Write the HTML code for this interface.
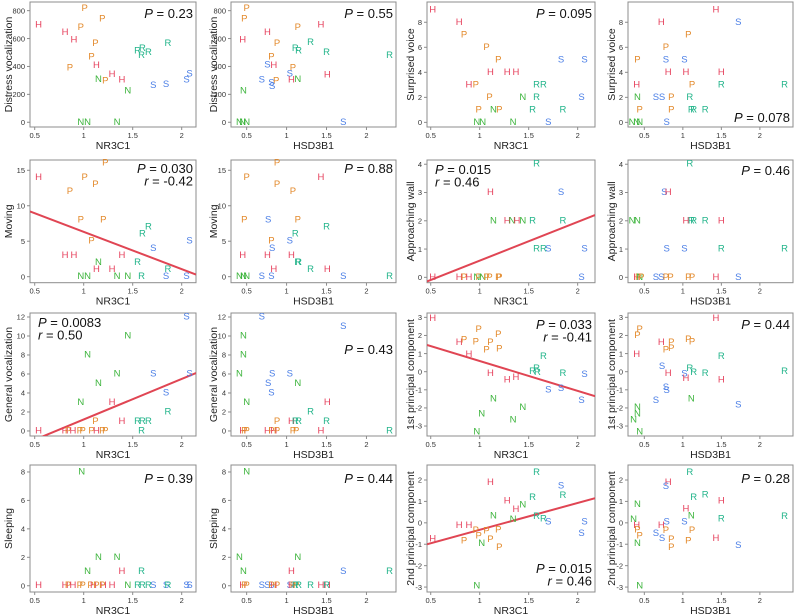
<!DOCTYPE html>
<html><head><meta charset="utf-8">
<style>
html,body{margin:0;padding:0;background:#fff;}
svg{display:block;font-family:"Liberation Sans",sans-serif;}
</style></head>
<body>
<svg id="chart" width="795" height="616" viewBox="0 0 795 616"></svg>
<script>
// ---- data arrays (letters = group, x = gene expression, y = behaviour) ----
const p1Labels=["H","P","P","H","P","H","P","P","H","P","N","P","H","H","N","R","R","R","R","R","S","S","S","S","N","N","N"];
const p1X=[0.54,1.01,1.19,0.81,0.97,0.90,1.12,1.08,1.13,0.86,1.15,1.22,1.29,1.39,1.45,1.55,1.60,1.59,1.66,1.86,1.71,1.84,2.05,2.08,0.97,1.04,1.34];
const p1Y=[697,817,740,645,680,590,566,466,406,389,308,296,341,303,224,511,530,478,499,566,263,272,303,346,0,0,0];

const p2Labels=["P","P","H","H","P","H","P","R","R","R","R","R","P","S","H","P","S","H","N","P","S","S","S","H","N","N","N","N","S"];
const p2X=[0.50,0.47,0.45,0.76,1.14,1.43,0.88,1.11,1.15,1.30,1.50,2.29,0.81,0.76,0.84,1.08,1.04,1.06,1.14,0.87,0.69,0.81,0.82,1.51,0.46,0.41,0.45,0.50,1.71];
const p2Y=[817,740,590,645,680,697,566,530,511,570,499,478,466,411,406,389,346,303,308,296,303,280,255,339,224,0,0,0,0];

const p3Labels=["H","H","P","P","P","H","H","H","H","P","P","P","N","P","N","R","R","R","R","R","S","S","S","S","N","N","N"];
const p3X=[0.52,0.79,0.84,1.07,1.19,1.11,1.28,1.37,0.89,0.96,1.10,0.99,1.14,1.20,1.44,1.58,1.65,1.58,1.54,1.85,1.83,2.07,2.04,1.70,0.97,1.03,1.34];
const p3Y=[9,8,7,6,5,4,4,4,3,3,2,1,1,1,2,3,3,2,1,1,5,5,2,0,0,0,0];

const p4Labels=["H","S","H","P","P","P","S","S","H","H","H","H","P","R","R","N","S","S","P","R","P","P","R","R","R","N","N","N","S"];
const p4X=[1.43,1.72,0.72,1.07,0.78,0.41,0.78,1.02,0.81,1.04,1.50,0.40,1.12,1.50,2.32,0.41,0.65,0.73,0.85,1.09,0.44,0.85,1.11,1.14,1.29,0.34,0.40,0.44,0.79];
const p4Y=[9,8,8,7,6,5,5,5,4,4,4,3,3,3,3,2,2,2,2,2,1,1,1,1,1,0,0,0,0];

const p5Labels=["P","H","P","P","P","P","P","R","R","P","S","S","H","H","H","N","R","H","H","R","N","N","N","N","R","S","S"];
const p5X=[1.22,0.54,1.01,1.12,0.86,0.97,1.20,1.66,1.60,1.08,2.08,1.71,0.81,0.90,1.39,1.15,1.55,1.13,1.29,1.86,0.97,1.04,1.34,1.45,1.59,1.84,2.05];
const p5Y=[16,14,14,13,12,8,8,7,6,5,5,4,3,3,3,2,2,1,1,1,0,0,0,0,0,0,0];
const p5Fit=[11.57,-5.25];

const p6Labels=["P","P","H","P","P","P","S","P","R","R","P","S","S","H","H","H","R","R","H","R","H","N","N","N","S","S","S","R"];
const p6X=[0.88,0.50,1.43,0.88,1.08,0.47,0.77,1.14,1.50,1.11,0.81,1.04,0.82,0.45,0.76,1.06,1.14,1.15,0.84,1.30,1.51,0.41,0.46,0.50,0.69,0.81,1.71,2.29];
const p6Y=[16,14,14,13,12,8,8,8,7,6,5,5,4,3,3,3,2,2,1,1,1,0,0,0,0,0,0,0];

const p7Labels=["R","H","S","N","H","N","H","N","R","R","R","R","S","S","S","H","H","P","H","N","P","N","P","P","P","P"];
const p7X=[1.58,1.11,1.83,1.14,1.28,1.33,1.38,1.44,1.54,1.85,1.58,1.65,1.70,2.07,2.04,0.52,0.79,0.84,0.89,0.97,0.99,1.03,1.07,1.10,1.19,1.20];
const p7Y=[4,3,3,2,2,2,2,2,2,2,1,1,1,1,0,0,0,0,0,0,0,0,0,0,0,0];
const p7Fit=[-0.78,1.37];

const p8Labels=["R","S","H","N","N","H","R","R","R","H","S","S","R","R","H","P","N","P","S","S","P","P","P","P","H","S"];
const p8X=[1.09,0.76,0.81,0.34,0.41,1.04,1.11,1.14,1.29,1.50,0.79,1.02,1.50,2.32,0.40,0.42,0.44,0.46,0.65,0.72,0.78,0.84,1.07,1.12,1.43,1.72];
const p8Y=[4,3,3,2,2,2,2,2,2,2,1,1,1,1,0,0,0,0,0,0,0,0,0,0,0,0];

const p9Labels=["S","N","N","N","S","S","N","S","N","H","R","P","H","R","R","R","R","H","H","P","H","P","P","P","H","P","P"];
const p9X=[2.05,1.45,1.04,1.34,1.71,2.08,1.15,1.84,0.97,1.29,1.86,1.12,1.39,1.55,1.60,1.66,1.59,0.54,0.81,0.84,0.89,0.96,0.99,1.08,1.13,1.19,1.22];
const p9Y=[12,10,8,6,6,6,5,4,3,3,2,1,1,1,1,1,0,0,0,0,0,0,0,0,0,0,0];
const p9Fit=[-3.06,4.27];

const p10Labels=["S","S","N","N","N","S","S","S","N","S","N","H","R","P","H","R","R","R","R","H","P","P","H","P","H","P","P","P","H"];
const p10X=[0.69,1.71,0.46,0.46,0.41,0.82,1.04,0.77,1.14,0.81,0.50,1.51,1.30,0.88,1.06,1.11,1.15,1.50,2.29,0.45,0.47,0.50,0.76,0.81,0.84,0.88,1.08,1.12,1.43];
const p10Y=[12,11,10,8,6,6,6,5,5,4,3,3,2,1,1,1,1,1,0,0,0,0,0,0,0,0,0,0,0];

const p11Labels=["H","P","H","P","P","P","P","P","P","H","R","R","R","R","R","H","S","H","H","S","S","S","N","N","N","N","N"];
const p11X=[0.52,0.99,0.79,0.84,0.96,1.11,1.19,1.07,1.20,0.89,1.65,1.58,1.54,1.59,1.85,1.11,2.07,1.28,1.37,1.70,1.83,2.04,1.14,1.44,1.02,1.34,0.97];
const p11Y=[2.95,2.34,1.62,1.75,1.65,1.62,2.06,1.2,1.25,0.96,0.83,0.18,0.0,-0.05,-0.1,-0.1,-0.15,-0.46,-0.33,-1.0,-0.92,-1.6,-1.5,-1.97,-2.34,-2.67,-3.33];
const p11Fit=[2.24,-1.65];

const p12Labels=["H","P","P","H","P","P","P","P","P","H","R","S","R","R","R","R","H","S","H","H","S","S","S","N","S","N","N","N","N"];
const p12X=[1.43,0.44,0.41,0.72,0.85,0.85,0.78,1.07,1.12,0.40,1.50,0.73,1.09,1.14,1.29,2.32,0.81,1.02,1.04,1.50,0.78,0.79,0.65,1.11,1.72,0.41,0.41,0.36,0.44];
const p12Y=[2.95,2.34,2.0,1.62,1.62,1.28,1.2,1.79,1.65,0.96,0.83,0.28,0.18,-0.05,-0.1,0.0,-0.1,-0.13,-0.37,-0.46,-0.87,-1.05,-1.6,-1.5,-1.84,-1.97,-2.34,-2.67,-3.33];

const p13Labels=["N","N","N","N","H","R","H","H","P","H","P","P","P","H","P","H","P","H","N","R","R","R","S","S","R","S","S"];
const p13X=[0.98,1.15,1.34,1.04,1.39,1.59,0.54,0.81,0.84,0.89,0.96,0.99,1.07,1.10,1.13,1.20,1.19,1.29,1.45,1.55,1.60,1.66,1.71,1.84,1.86,2.05,2.08];
const p13Y=[8,2,2,1,1,1,0,0,0,0,0,0,0,0,0,0,0,0,0,0,0,0,0,0,0,0,0];

const p14Labels=["N","N","N","N","H","S","R","H","P","P","S","S","S","H","P","P","S","H","P","P","R","R","R","H","H","R"];
const p14X=[0.50,0.41,1.14,0.46,1.06,1.71,2.29,0.45,0.47,0.50,0.69,0.76,0.81,0.84,0.81,0.88,1.04,1.06,1.08,1.12,1.11,1.15,1.30,1.43,1.51,1.50];
const p14Y=[8,2,2,1,1,1,1,0,0,0,0,0,0,0,0,0,0,0,0,0,0,0,0,0,0,0];

const p15Labels=["R","H","S","R","R","H","N","H","N","N","R","R","S","S","H","H","P","P","P","S","P","H","P","P","N","P","N"];
const p15X=[1.58,1.11,1.83,1.85,1.54,1.28,1.44,1.37,1.14,1.34,1.58,1.65,1.70,2.07,0.79,0.89,0.96,1.07,1.19,2.04,0.99,0.52,0.84,1.11,1.02,1.20,0.97];
const p15Y=[2.34,1.88,1.72,1.27,1.19,1.03,0.83,0.63,0.32,0.16,0.29,0.18,0.05,0.05,-0.13,-0.13,-0.37,-0.38,-0.34,-0.5,-0.62,-0.76,-0.85,-0.77,-0.96,-1.15,-2.95];
const p15Fit=[-1.58,1.254];

const p16Labels=["R","H","S","R","R","H","N","H","N","R","R","N","S","S","H","H","P","P","P","P","S","S","H","P","N","P","P","S","N"];
const p16X=[1.09,0.81,0.78,1.29,1.14,1.50,0.41,1.04,1.11,1.50,2.32,0.36,0.79,1.02,0.72,0.40,0.41,0.44,0.78,1.12,0.65,0.73,1.43,0.85,0.41,1.07,0.85,1.72,0.44];
const p16Y=[2.34,1.88,1.69,1.3,1.19,1.03,0.86,0.64,0.32,0.18,0.29,0.16,0.05,0.05,-0.13,-0.13,-0.34,-0.62,-0.37,-0.37,-0.5,-0.73,-0.73,-0.77,-0.96,-0.85,-1.15,-1.07,-2.95];

const nrTicks=["0.5","1","1.5","2"];
const hsTicks=["0.5","1","1.5","2"];
const distressTicks=["0","200","400","600","800"];
const surpTicks=["0","2","4","6","8"];
const movingTicks=["0","5","10","15"];
const wallTicks=["0","1","2","3","4"];
const genTicks=["0","2","4","6","8","10","12"];
const pcTicks1=["-3","-2","-1","0","1","2","3"];
const sleepTicks=["0","2","4","6","8"];
const pcTicks2=["-3","-2","-1","0","1","2"];

const colors={H:"#e6405c",P:"#e38a2c",N:"#3cb43c",R:"#22b48a",S:"#4a7ee6"};
const NS="http://www.w3.org/2000/svg";
const svg=document.getElementById('chart');
function mk(tag,attrs,parent){const e=document.createElementNS(NS,tag);for(const k in attrs)e.setAttribute(k,attrs[k]);(parent||svg).appendChild(e);return e;}

const cols=[{l:30,r:196,xmin:0.452,xmax:2.146,title:"NR3C1",tx:nrTicks,yt:9},
            {l:231,r:396,xmin:0.304,xmax:2.37,title:"HSD3B1",tx:hsTicks,yt:214},
            {l:427,r:595,xmin:0.462,xmax:2.177,title:"NR3C1",tx:nrTicks,yt:411},
            {l:628,r:793,xmin:0.288,xmax:2.43,title:"HSD3B1",tx:hsTicks,yt:612}];
const rows=[{t:2,b:127},{t:160,b:282.7},{t:313,b:436},{t:465,b:592}];

const panels=[
 {c:0,r:0,lab:p1Labels,x:p1X,y:p1Y,ymin:-34,ymax:862,yt:distressTicks,ttl:"Distress vocalization",stats:[["P","0.23"]],anchor:"end",base:18},
 {c:1,r:0,lab:p2Labels,x:p2X,y:p2Y,ymin:-34,ymax:862,yt:distressTicks,ttl:"Distress vocalization",stats:[["P","0.55"]],anchor:"end",base:18},
 {c:2,r:0,lab:p3Labels,x:p3X,y:p3Y,ymin:-0.37,ymax:9.62,yt:surpTicks,ttl:"Surprised voice",stats:[["P","0.095"]],anchor:"end",base:18},
 {c:3,r:0,lab:p4Labels,x:p4X,y:p4Y,ymin:-0.37,ymax:9.62,yt:surpTicks,ttl:"Surprised voice",stats:[["P","0.078"]],anchor:"end",base:122},
 {c:0,r:1,lab:p5Labels,x:p5X,y:p5Y,ymin:-0.85,ymax:16.45,yt:movingTicks,ttl:"Moving",stats:[["P","0.030"],["r","-0.42"]],anchor:"end",base:173,fit:p5Fit},
 {c:1,r:1,lab:p6Labels,x:p6X,y:p6Y,ymin:-0.85,ymax:16.45,yt:movingTicks,ttl:"Moving",stats:[["P","0.88"]],anchor:"end",base:173},
 {c:2,r:1,lab:p7Labels,x:p7X,y:p7Y,ymin:-0.19,ymax:4.15,yt:wallTicks,ttl:"Approaching wall",stats:[["P","0.015"],["r","0.46"]],anchor:"start",base:174,fit:p7Fit},
 {c:3,r:1,lab:p8Labels,x:p8X,y:p8Y,ymin:-0.19,ymax:4.15,yt:wallTicks,ttl:"Approaching wall",stats:[["P","0.46"]],anchor:"end",base:175},
 {c:0,r:2,lab:p9Labels,x:p9X,y:p9Y,ymin:-0.53,ymax:12.42,yt:genTicks,ttl:"General vocalization",stats:[["P","0.0083"],["r","0.50"]],anchor:"start",base:327,fit:p9Fit},
 {c:1,r:2,lab:p10Labels,x:p10X,y:p10Y,ymin:-0.53,ymax:12.42,yt:genTicks,ttl:"General vocalization",stats:[["P","0.43"]],anchor:"end",base:354},
 {c:2,r:2,lab:p11Labels,x:p11X,y:p11Y,ymin:-3.55,ymax:3.24,yt:pcTicks1,ttl:"1st principal component",stats:[["P","0.033"],["r","-0.41"]],anchor:"end",base:329,fit:p11Fit},
 {c:3,r:2,lab:p12Labels,x:p12X,y:p12Y,ymin:-3.55,ymax:3.24,yt:pcTicks1,ttl:"1st principal component",stats:[["P","0.44"]],anchor:"end",base:329},
 {c:0,r:3,lab:p13Labels,x:p13X,y:p13Y,ymin:-0.44,ymax:8.49,yt:sleepTicks,ttl:"Sleeping",stats:[["P","0.39"]],anchor:"end",base:483},
 {c:1,r:3,lab:p14Labels,x:p14X,y:p14Y,ymin:-0.44,ymax:8.49,yt:sleepTicks,ttl:"Sleeping",stats:[["P","0.44"]],anchor:"end",base:483},
 {c:2,r:3,lab:p15Labels,x:p15X,y:p15Y,ymin:-3.23,ymax:2.70,yt:pcTicks2,ttl:"2nd principal component",stats:[["P","0.015"],["r","0.46"]],anchor:"end",base:573,fit:p15Fit},
 {c:3,r:3,lab:p16Labels,x:p16X,y:p16Y,ymin:-3.23,ymax:2.70,yt:pcTicks2,ttl:"2nd principal component",stats:[["P","0.28"]],anchor:"end",base:483}
];

panels.forEach((p,i)=>{
  const C=cols[p.c],R=rows[p.r];
  const sx=v=>C.l+(v-C.xmin)/(C.xmax-C.xmin)*(C.r-C.l);
  const sy=v=>R.b-(v-p.ymin)/(p.ymax-p.ymin)*(R.b-R.t);
  const g=mk('g',{});
  
  
  const cp=mk('clipPath',{id:'clip'+i},g);
  mk('rect',{x:C.l,y:R.t,width:C.r-C.l,height:R.b-R.t},cp);
  const fr=mk('rect',{x:C.l,y:R.t,width:C.r-C.l,height:R.b-R.t,fill:'none',stroke:'#8c8c8c','stroke-width':1},g);
  
  
  C.tx.forEach(t=>{
    const x=sx(parseFloat(t));
    mk('line',{x1:x,x2:x,y1:R.b,y2:R.b+3,stroke:'#8c8c8c'},g);
    const tl=mk('text',{x:x,y:R.b+11,'font-size':7.5,fill:'#333','text-anchor':'middle'},g);
    tl.textContent=t;
    
    
  });
  const xt=mk('text',{x:(C.l+C.r)/2,y:R.b+22,'font-size':10.5,fill:'#222','text-anchor':'middle'},g);
  xt.textContent=C.title;
  
  
  p.yt.forEach(t=>{
    const y=sy(parseFloat(t));
    mk('line',{x1:C.l-3,x2:C.l,y1:y,y2:y,stroke:'#8c8c8c'},g);
    const tl=mk('text',{x:C.l-5,y:y+2.7,'font-size':7.5,fill:'#333','text-anchor':'end'},g);
    tl.textContent=t;
    
    
  });
  const yc=(R.t+R.b)/2;
  const ytt=mk('text',{x:C.yt,y:yc,'font-size':10.5,fill:'#222','text-anchor':'middle',transform:`rotate(-90 ${C.yt} ${yc})`,'dominant-baseline':'central'},g);
  ytt.textContent=p.ttl;
  
  
  if(p.fit){
    const ln=mk('line',{x1:sx(C.xmin),y1:sy(p.fit[0]+p.fit[1]*C.xmin),x2:sx(C.xmax),y2:sy(p.fit[0]+p.fit[1]*C.xmax),stroke:'#e04553','stroke-width':2,'clip-path':`url(#clip${i})`},g);
    
    
  }
  p.lab.forEach((L,k)=>{
    const t=mk('text',{x:sx(p.x[k]),y:sy(p.y[k]),'font-size':9.5,fill:colors[L],'text-anchor':'middle','dominant-baseline':'central'},g);
    t.textContent=L;
    
    
  });
  const tx=p.anchor==='start'?C.l+8:C.r-3;
  p.stats.forEach((s,k)=>{
    const t=mk('text',{x:tx,y:p.base+k*12.5,'font-size':13,fill:'#111','text-anchor':p.anchor},g);
    const it=mk('tspan',{'font-style':'italic'},t);
    it.textContent=s[0];
    const v=mk('tspan',{},t);
    v.textContent=' = '+s[1];
    
    
  });
});
</script>
</body></html>
